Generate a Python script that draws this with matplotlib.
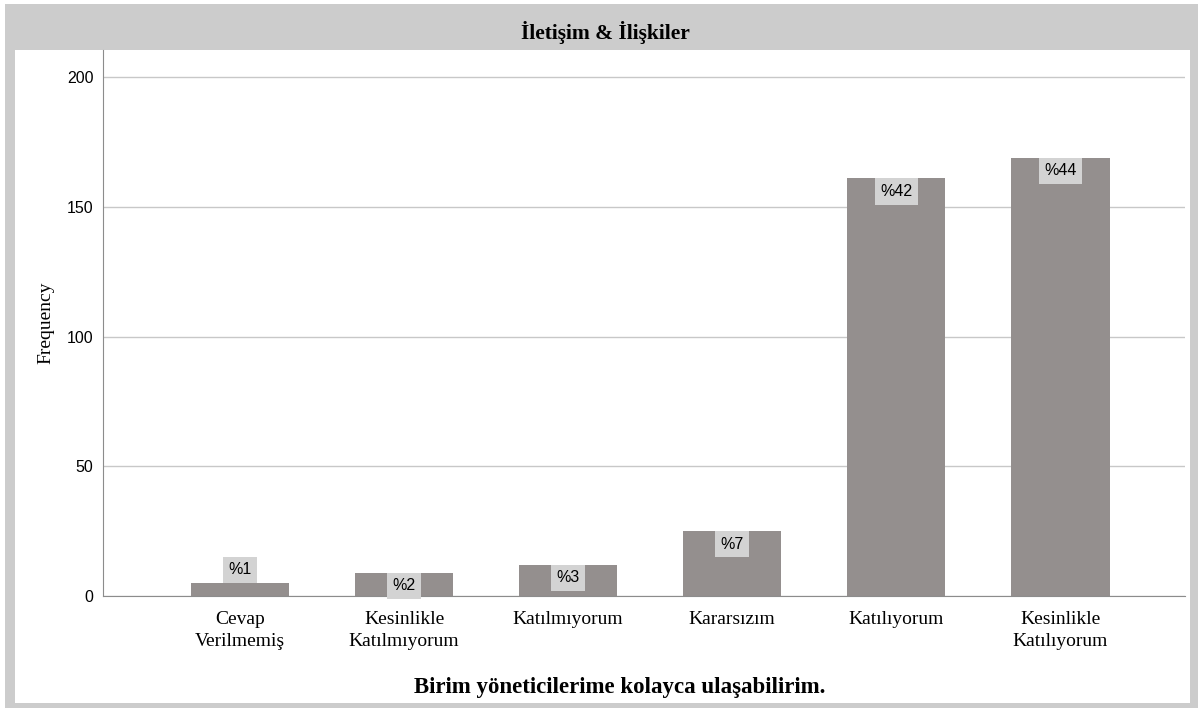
import matplotlib
matplotlib.use("Agg")
import matplotlib.pyplot as plt
from matplotlib.patches import Rectangle

categories = ["Cevap\nVerilmemiş", "Kesinlikle\nKatılmıyorum", "Katılmıyorum",
              "Kararsızım", "Katılıyorum", "Kesinlikle\nKatılıyorum"]
frequencies = [5, 9, 12, 25, 161, 169]
percent_labels = ["%1", "%2", "%3", "%7", "%42", "%44"]
y_ticks = [0, 50, 100, 150, 200]

W, H = 1203, 711
SERIF = "Liberation Serif"
SANS = "Liberation Sans"
BAR_COLOR = "#948f8e"
FRAME_GRAY = "#cccccc"

fig = plt.figure(figsize=(W / 100, H / 100), dpi=100)
fig.patch.set_facecolor("white")

# gray frame with title band, white panel inside
fig.patches.append(Rectangle((5 / W, 3 / H), 1193 / W, 704 / H, transform=fig.transFigure,
                             facecolor=FRAME_GRAY, edgecolor="none", zorder=-2))
fig.patches.append(Rectangle((15 / W, 8 / H), 1175 / W, 653 / H, transform=fig.transFigure,
                             facecolor="white", edgecolor="none", zorder=-1))

fig.text(605 / W, 1 - 32 / H, "İletişim & İlişkiler", ha="center", va="center",
         fontsize=15.5, fontweight="bold", family=SERIF)

ax = fig.add_axes([103 / W, 115 / H, (1185 - 103) / W, (596 - 50) / H])
ax.set_facecolor("none")

x = list(range(len(categories)))
bars = ax.bar(x, frequencies, width=0.6, color=BAR_COLOR, zorder=3)

ax.set_xlim(-0.835, 5.76)
ax.set_ylim(0, 210.5)
ax.set_yticks(y_ticks)
ax.set_yticklabels([str(t) for t in y_ticks], family=SANS, fontsize=11.5)
ax.set_xticks(x)
ax.set_xticklabels(categories, family=SERIF, fontsize=14, linespacing=1.4)
ax.tick_params(axis="both", length=0)
ax.tick_params(axis="x", pad=11)
ax.tick_params(axis="y", pad=7)

ax.grid(axis="y", color="#c8c8c8", linewidth=1, zorder=0)
for side in ["top", "right"]:
    ax.spines[side].set_visible(False)
ax.spines["left"].set_color("#8c8c8c")
ax.spines["bottom"].set_color("#8c8c8c")
ax.spines["bottom"].set_zorder(4)

ax.set_ylabel("Frequency", family=SERIF, fontsize=14, labelpad=9)

for xi, val, lab in zip(x, frequencies, percent_labels):
    if val < 8:
        ax.annotate(lab, (xi, val), xytext=(0, 4), textcoords="offset points",
                    ha="center", va="bottom", family=SANS, fontsize=11.5, zorder=5,
                    bbox=dict(boxstyle="square,pad=0.35", facecolor="#d3d3d3", edgecolor="none"))
    else:
        ax.annotate(lab, (xi, val), xytext=(0, -4), textcoords="offset points",
                    ha="center", va="top", family=SANS, fontsize=11.5, zorder=5,
                    bbox=dict(boxstyle="square,pad=0.35", facecolor="#d3d3d3", edgecolor="none"))

fig.text(620 / W, 1 - 688 / H, "Birim yöneticilerime kolayca ulaşabilirim.", ha="center",
         va="center", fontsize=16.5, fontweight="bold", family=SERIF)

fig.savefig("out.png", dpi=100)
